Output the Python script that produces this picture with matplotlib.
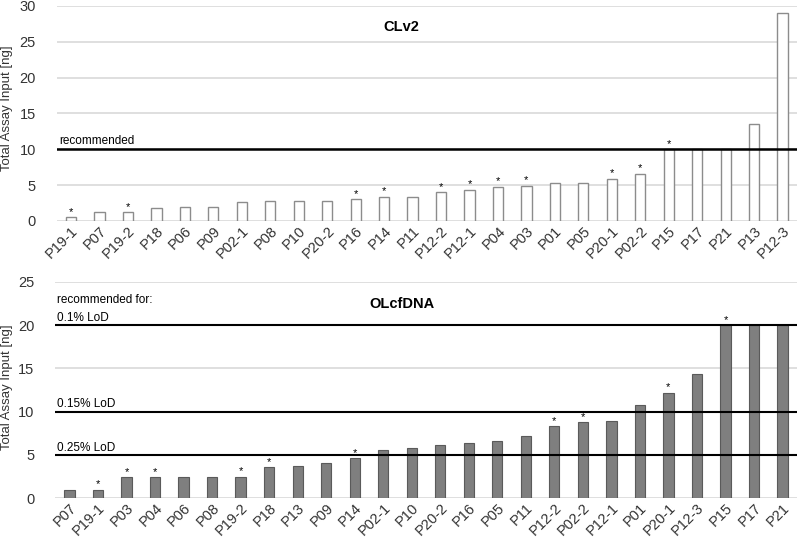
import matplotlib
matplotlib.use("Agg")
import matplotlib.pyplot as plt

plt.rcParams['font.family'] = ['Liberation Sans', 'DejaVu Sans']

# CLv2 panel
clv2_samples = ['P19-1', 'P07', 'P19-2', 'P18', 'P06', 'P09', 'P02-1', 'P08', 'P10', 'P20-2',
                'P16', 'P14', 'P11', 'P12-2', 'P12-1', 'P04', 'P03', 'P01', 'P05', 'P20-1',
                'P02-2', 'P15', 'P17', 'P21', 'P13', 'P12-3']
clv2_input = [0.5, 1.2, 1.2, 1.8, 1.9, 1.9, 2.7, 2.85, 2.85, 2.85,
              3.0, 3.4, 3.4, 4.0, 4.3, 4.75, 4.85, 5.25, 5.35, 5.9,
              6.6, 10, 10, 10, 13.5, 29.0]
clv2_star = ['P19-1', 'P19-2', 'P16', 'P14', 'P12-2', 'P12-1', 'P04', 'P03', 'P20-1', 'P02-2', 'P15']

# OLcfDNA panel
ol_samples = ['P07', 'P19-1', 'P03', 'P04', 'P06', 'P08', 'P19-2', 'P18', 'P13', 'P09',
              'P14', 'P02-1', 'P10', 'P20-2', 'P16', 'P05', 'P11', 'P12-2', 'P02-2', 'P12-1',
              'P01', 'P20-1', 'P12-3', 'P15', 'P17', 'P21']
ol_input = [1.0, 1.0, 2.4, 2.4, 2.4, 2.4, 2.5, 3.6, 3.7, 4.1,
            4.6, 5.6, 5.8, 6.1, 6.4, 6.6, 7.2, 8.3, 8.8, 8.9,
            10.8, 12.2, 14.4, 20, 20, 20]
ol_star = ['P19-1', 'P03', 'P04', 'P19-2', 'P18', 'P14', 'P12-2', 'P02-2', 'P20-1', 'P15']
ol_limits = [20, 10, 5]
ol_limit_labels = ['0.1% LoD', '0.15% LoD', '0.25% LoD']

fig = plt.figure(figsize=(8, 5.41), dpi=100)
ax1 = fig.add_axes([0.071, 0.5915, 0.925, 0.3975])
ax2 = fig.add_axes([0.069, 0.079, 0.927, 0.400])


def style_axis(ax, ymax, label_y):
    ax.set_ylim(0, ymax)
    ax.set_yticks(range(0, ymax + 1, 5))
    ax.set_xlim(-0.5, 25.5)
    for s in ax.spines.values():
        s.set_visible(False)
    ax.yaxis.grid(True, color='#d9d9d9', linewidth=1.2)
    ax.set_axisbelow(True)
    ax.tick_params(axis='both', length=0, labelsize=10.5, colors='#333333')
    ax.tick_params(axis='x', pad=2)
    ax.tick_params(axis='y', pad=15)
    for lab in ax.get_xticklabels():
        lab.set_rotation(45)
        lab.set_ha('right')
        lab.set_rotation_mode('anchor')
    # y label close to the figure edge
    fig.text(0.009, label_y, 'Total Assay Input [ng]', rotation=90,
             fontsize=9.5, color='#333333', ha='center', va='center')


# top panel
x1 = range(len(clv2_samples))
ax1.bar(x1, clv2_input, width=0.36, color='white', edgecolor='#8c8c8c', linewidth=1, zorder=2)
ax1.set_xticks(list(x1))
ax1.set_xticklabels(clv2_samples)
style_axis(ax1, 30, 1 - 108 / 541)
ax1.axhline(10, color='black', linewidth=1.8, zorder=3)
ax1.text(0.003, 10.3, 'recommended', transform=ax1.get_yaxis_transform(), fontsize=8.5, va='bottom')
ax1.text(0.466, 27, 'CLv2', transform=ax1.get_yaxis_transform(), fontsize=10.5, fontweight='bold',
         ha='center', va='center')
for i, s in enumerate(clv2_samples):
    if s in clv2_star:
        ax1.text(i, clv2_input[i] + 0.1, '*', ha='center', va='bottom', fontsize=8)

# bottom panel
x2 = range(len(ol_samples))
ax2.bar(x2, ol_input, width=0.36, color='#7f7f7f', edgecolor='#5a5a5a', linewidth=0.8, zorder=2)
ax2.set_xticks(list(x2))
ax2.set_xticklabels(ol_samples)
style_axis(ax2, 25, 1 - 387 / 541)
for y, lab in zip(ol_limits, ol_limit_labels):
    ax2.axhline(y, color='black', linewidth=1.5, zorder=3)
    ax2.text(0.003, y + 0.15, lab, transform=ax2.get_yaxis_transform(), fontsize=8.5, va='bottom')
ax2.text(0.003, 22.9, 'recommended for:', transform=ax2.get_yaxis_transform(), fontsize=8.5, va='center')
ax2.text(0.467, 22.5, 'OLcfDNA', transform=ax2.get_yaxis_transform(), fontsize=10.5, fontweight='bold',
         ha='center', va='center')
for i, s in enumerate(ol_samples):
    if s in ol_star:
        ax2.text(i, ol_input[i] + 0.05, '*', ha='center', va='bottom', fontsize=8)

fig.savefig('out.png', dpi=100)
